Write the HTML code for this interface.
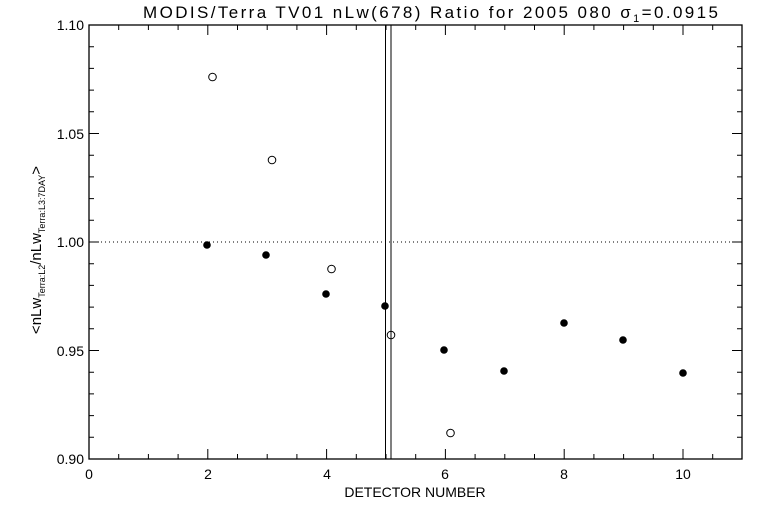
<!DOCTYPE html>
<html><head><style>body{margin:0;background:#fff}svg{display:block}text{font-family:"Liberation Sans",sans-serif;fill:#000}</style></head>
<body>
<svg width="768" height="512" xmlns="http://www.w3.org/2000/svg">
<rect width="768" height="512" fill="#fff"/>
<text x="143" y="18" font-size="17" textLength="575" lengthAdjust="spacing">MODIS/Terra TV01 nLw(678) Ratio for 2005 080 σ<tspan font-size="11" dy="4">1</tspan><tspan dy="-4">=0.0915</tspan></text>
<rect x="89" y="25" width="653" height="434" fill="none" stroke="#000" stroke-width="1.3"/>
<g stroke="#000" stroke-width="1">
<path d="M89 459v-10M207.8 459v-10M326.6 459v-10M445.4 459v-10M564.2 459v-10M683 459v-10
M89 25v10M207.8 25v10M326.6 25v10M445.4 25v10M564.2 25v10M683 25v10
M118.7 459v-5M148.4 459v-5M178.1 459v-5M237.5 459v-5M267.2 459v-5M296.9 459v-5M356.3 459v-5M386 459v-5M415.7 459v-5M475.1 459v-5M504.8 459v-5M534.5 459v-5M593.9 459v-5M623.6 459v-5M653.3 459v-5M712.7 459v-5
M118.7 25v5M148.4 25v5M178.1 25v5M237.5 25v5M267.2 25v5M296.9 25v5M356.3 25v5M386 25v5M415.7 25v5M475.1 25v5M504.8 25v5M534.5 25v5M593.9 25v5M623.6 25v5M653.3 25v5M712.7 25v5"/>
<path d="M89 459h10M89 350.5h10M89 242h10M89 133.5h10M89 25h10
M742 459h-10M742 350.5h-10M742 242h-10M742 133.5h-10M742 25h-10
M89 437.3h5M89 415.6h5M89 393.9h5M89 372.2h5M89 328.8h5M89 307.1h5M89 285.4h5M89 263.7h5M89 220.3h5M89 198.6h5M89 176.9h5M89 155.2h5M89 111.8h5M89 90.1h5M89 68.4h5M89 46.7h5
M742 437.3h-5M742 415.6h-5M742 393.9h-5M742 372.2h-5M742 328.8h-5M742 307.1h-5M742 285.4h-5M742 263.7h-5M742 220.3h-5M742 198.6h-5M742 176.9h-5M742 155.2h-5M742 111.8h-5M742 90.1h-5M742 68.4h-5M742 46.7h-5"/>
<path d="M385.5 25v434M391 25v434"/>
</g>
<line x1="89" y1="242" x2="742" y2="242" stroke="#000" stroke-dasharray="1,3"/>
<g font-size="14" text-anchor="end">
<text x="84" y="464">0.90</text><text x="84" y="356">0.95</text><text x="84" y="247">1.00</text><text x="84" y="139">1.05</text><text x="84" y="30">1.10</text>
</g>
<g font-size="14" text-anchor="middle">
<text x="89" y="479">0</text><text x="208" y="479">2</text><text x="327" y="479">4</text><text x="445" y="479">6</text><text x="564" y="479">8</text><text x="683" y="479">10</text>
<text x="415" y="497">DETECTOR NUMBER</text>
</g>
<text transform="translate(41,250) rotate(-90)" font-size="15" text-anchor="middle">&lt;nLw<tspan font-size="9" dy="4">Terra:L2</tspan><tspan dy="-4">/nLw</tspan><tspan font-size="9" dy="4">Terra:L3:7DAY</tspan><tspan dy="-4">&gt;</tspan></text>
<g fill="#000">
<circle cx="207" cy="245" r="3.8"/><circle cx="266" cy="255" r="3.8"/><circle cx="326" cy="294" r="3.8"/><circle cx="385" cy="306" r="3.8"/><circle cx="444" cy="350" r="3.8"/><circle cx="504" cy="371" r="3.8"/><circle cx="564" cy="323" r="3.8"/><circle cx="623" cy="340" r="3.8"/><circle cx="683" cy="373" r="3.8"/>
</g>
<g fill="none" stroke="#000" stroke-width="1">
<circle cx="212.5" cy="77" r="3.8"/><circle cx="272" cy="160" r="3.8"/><circle cx="331.5" cy="269" r="3.8"/><circle cx="391" cy="335" r="3.8"/><circle cx="450.5" cy="433" r="3.8"/>
</g>
</svg>
</body></html>
